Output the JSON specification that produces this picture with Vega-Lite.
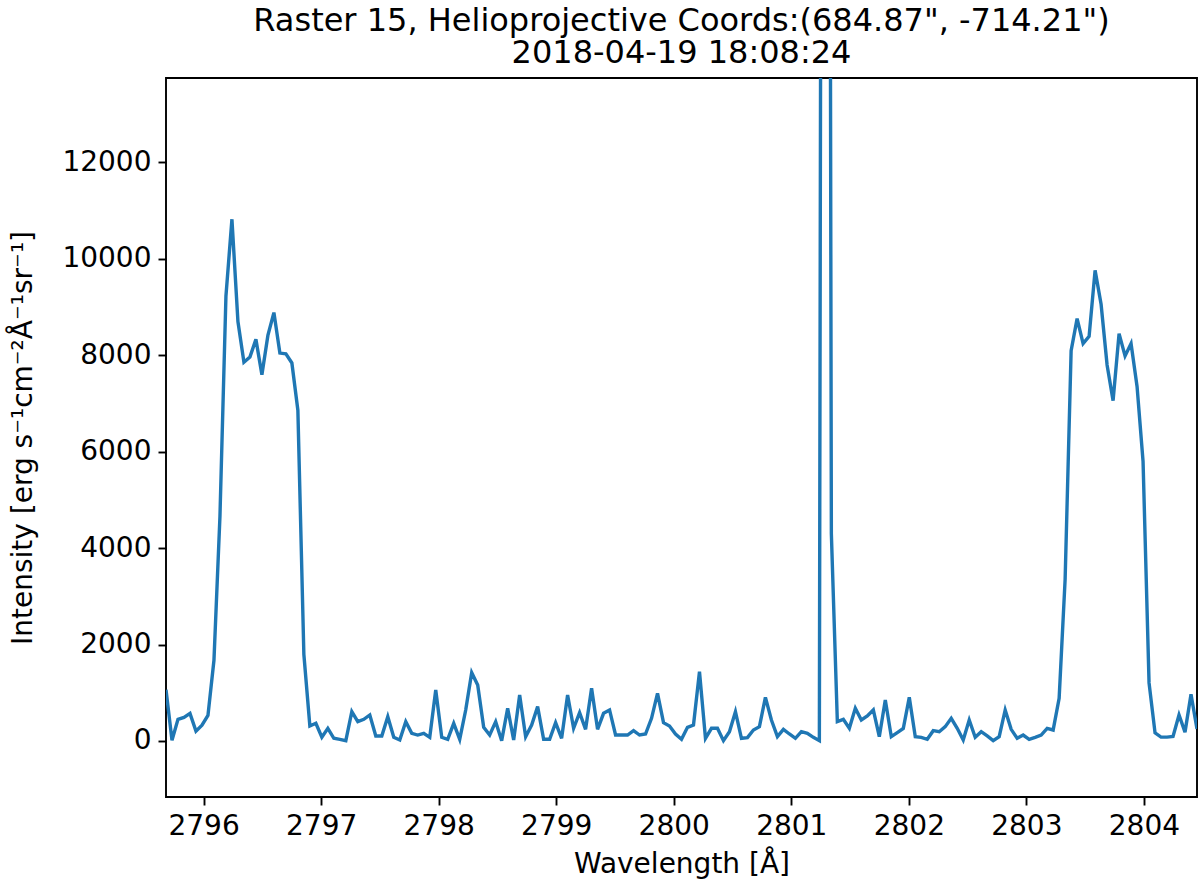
{
  "$schema": "https://vega.github.io/schema/vega-lite/v6.json",
  "width": 1031,
  "height": 719,
  "autosize": {"type": "none"},
  "padding": {"left": 166, "top": 78, "right": 3, "bottom": 97},
  "background": "white",
  "config": {"view": {"stroke": "black", "strokeWidth": 1.9}, "font": "DejaVu Sans"},
  "title": {
    "text": ["Raster 15, Helioprojective Coords:(684.87\", -714.21\")", "2018-04-19 18:08:24"],
    "fontSize": 32,
    "lineHeight": 32,
    "font": "DejaVu Sans",
    "fontWeight": "normal",
    "color": "black",
    "anchor": "middle",
    "offset": 8
  },
  "data": {"values": [
    {"w": 2795.680, "i": 1061}, {"w": 2795.731, "i": 16}, {"w": 2795.782, "i": 449}, {"w": 2795.833, "i": 490},
    {"w": 2795.884, "i": 571}, {"w": 2795.935, "i": 204}, {"w": 2795.986, "i": 327}, {"w": 2796.037, "i": 531},
    {"w": 2796.088, "i": 1673}, {"w": 2796.139, "i": 4653}, {"w": 2796.190, "i": 9224}, {"w": 2796.241, "i": 10816},
    {"w": 2796.292, "i": 8694}, {"w": 2796.343, "i": 7853}, {"w": 2796.394, "i": 7959}, {"w": 2796.445, "i": 8326},
    {"w": 2796.496, "i": 7592}, {"w": 2796.547, "i": 8408}, {"w": 2796.598, "i": 8881}, {"w": 2796.649, "i": 8041},
    {"w": 2796.700, "i": 8024}, {"w": 2796.751, "i": 7837}, {"w": 2796.802, "i": 6857}, {"w": 2796.853, "i": 1796},
    {"w": 2796.904, "i": 311}, {"w": 2796.955, "i": 367}, {"w": 2797.006, "i": 77}, {"w": 2797.057, "i": 263},
    {"w": 2797.108, "i": 56}, {"w": 2797.159, "i": 35}, {"w": 2797.210, "i": 7}, {"w": 2797.261, "i": 608},
    {"w": 2797.312, "i": 401}, {"w": 2797.363, "i": 449}, {"w": 2797.414, "i": 539}, {"w": 2797.465, "i": 104},
    {"w": 2797.516, "i": 104}, {"w": 2797.567, "i": 504}, {"w": 2797.618, "i": 76}, {"w": 2797.669, "i": 21},
    {"w": 2797.720, "i": 401}, {"w": 2797.771, "i": 159}, {"w": 2797.822, "i": 124}, {"w": 2797.873, "i": 159},
    {"w": 2797.924, "i": 76}, {"w": 2797.975, "i": 1057}, {"w": 2798.026, "i": 76}, {"w": 2798.077, "i": 35},
    {"w": 2798.128, "i": 367}, {"w": 2798.179, "i": 35}, {"w": 2798.230, "i": 643}, {"w": 2798.281, "i": 1416},
    {"w": 2798.332, "i": 1161}, {"w": 2798.383, "i": 283}, {"w": 2798.434, "i": 124}, {"w": 2798.485, "i": 401},
    {"w": 2798.536, "i": 7}, {"w": 2798.587, "i": 678}, {"w": 2798.638, "i": 21}, {"w": 2798.689, "i": 954},
    {"w": 2798.740, "i": 90}, {"w": 2798.791, "i": 332}, {"w": 2798.842, "i": 712}, {"w": 2798.893, "i": 35},
    {"w": 2798.944, "i": 35}, {"w": 2798.995, "i": 380}, {"w": 2799.046, "i": 56}, {"w": 2799.097, "i": 954},
    {"w": 2799.148, "i": 263}, {"w": 2799.199, "i": 588}, {"w": 2799.250, "i": 242}, {"w": 2799.301, "i": 1092},
    {"w": 2799.352, "i": 242}, {"w": 2799.403, "i": 574}, {"w": 2799.454, "i": 643}, {"w": 2799.505, "i": 124},
    {"w": 2799.556, "i": 124}, {"w": 2799.607, "i": 124}, {"w": 2799.658, "i": 214}, {"w": 2799.709, "i": 124},
    {"w": 2799.760, "i": 145}, {"w": 2799.811, "i": 470}, {"w": 2799.862, "i": 989}, {"w": 2799.913, "i": 380},
    {"w": 2799.964, "i": 311}, {"w": 2800.015, "i": 145}, {"w": 2800.066, "i": 35}, {"w": 2800.117, "i": 283},
    {"w": 2800.168, "i": 332}, {"w": 2800.219, "i": 1437}, {"w": 2800.270, "i": 56}, {"w": 2800.321, "i": 263},
    {"w": 2800.372, "i": 263}, {"w": 2800.423, "i": 7}, {"w": 2800.474, "i": 193}, {"w": 2800.525, "i": 608},
    {"w": 2800.576, "i": 56}, {"w": 2800.627, "i": 70}, {"w": 2800.678, "i": 228}, {"w": 2800.729, "i": 297},
    {"w": 2800.780, "i": 905}, {"w": 2800.831, "i": 435}, {"w": 2800.882, "i": 90}, {"w": 2800.933, "i": 242},
    {"w": 2800.984, "i": 145}, {"w": 2801.035, "i": 56}, {"w": 2801.086, "i": 193}, {"w": 2801.137, "i": 159},
    {"w": 2801.188, "i": 76}, {"w": 2801.239, "i": 7}, {"w": 2801.290, "i": 70000}, {"w": 2801.341, "i": 4300},
    {"w": 2801.392, "i": 401}, {"w": 2801.443, "i": 449}, {"w": 2801.494, "i": 263}, {"w": 2801.545, "i": 678},
    {"w": 2801.596, "i": 435}, {"w": 2801.647, "i": 518}, {"w": 2801.698, "i": 643}, {"w": 2801.749, "i": 90},
    {"w": 2801.800, "i": 850}, {"w": 2801.851, "i": 90}, {"w": 2801.902, "i": 173}, {"w": 2801.953, "i": 260},
    {"w": 2802.004, "i": 905}, {"w": 2802.055, "i": 90}, {"w": 2802.106, "i": 76}, {"w": 2802.157, "i": 35},
    {"w": 2802.208, "i": 214}, {"w": 2802.259, "i": 193}, {"w": 2802.310, "i": 297}, {"w": 2802.361, "i": 470},
    {"w": 2802.412, "i": 263}, {"w": 2802.463, "i": 21}, {"w": 2802.514, "i": 435}, {"w": 2802.565, "i": 76},
    {"w": 2802.616, "i": 193}, {"w": 2802.667, "i": 104}, {"w": 2802.718, "i": 7}, {"w": 2802.769, "i": 90},
    {"w": 2802.820, "i": 643}, {"w": 2802.871, "i": 242}, {"w": 2802.922, "i": 56}, {"w": 2802.973, "i": 124},
    {"w": 2803.024, "i": 35}, {"w": 2803.075, "i": 76}, {"w": 2803.126, "i": 124}, {"w": 2803.177, "i": 263},
    {"w": 2803.228, "i": 228}, {"w": 2803.279, "i": 885}, {"w": 2803.330, "i": 3352}, {"w": 2803.381, "i": 8091},
    {"w": 2803.432, "i": 8757}, {"w": 2803.483, "i": 8238}, {"w": 2803.534, "i": 8387}, {"w": 2803.585, "i": 9756},
    {"w": 2803.636, "i": 9053}, {"w": 2803.687, "i": 7794}, {"w": 2803.738, "i": 7054}, {"w": 2803.789, "i": 8446},
    {"w": 2803.840, "i": 7981}, {"w": 2803.891, "i": 8238}, {"w": 2803.942, "i": 7351}, {"w": 2803.993, "i": 5796},
    {"w": 2804.044, "i": 1204}, {"w": 2804.095, "i": 168}, {"w": 2804.146, "i": 80}, {"w": 2804.197, "i": 80},
    {"w": 2804.248, "i": 95}, {"w": 2804.299, "i": 539}, {"w": 2804.350, "i": 184}, {"w": 2804.401, "i": 968},
    {"w": 2804.452, "i": 250}
  ]},
  "mark": {"type": "line", "color": "#1f77b4", "strokeWidth": 3.4, "clip": true},
  "encoding": {
    "x": {
      "field": "w", "type": "quantitative",
      "scale": {"domain": [2795.68, 2804.452], "nice": false, "zero": false},
      "axis": {
        "values": [2796, 2797, 2798, 2799, 2800, 2801, 2802, 2803, 2804],
        "format": "d", "grid": false, "domain": false,
        "tickColor": "black", "tickWidth": 1.9, "tickSize": 8,
        "labelColor": "black", "labelFont": "DejaVu Sans", "labelFontSize": 28, "labelPadding": 7,
        "labelFlush": false, "labelOverlap": false,
        "title": "Wavelength [Å]", "titleFont": "DejaVu Sans", "titleFontSize": 28,
        "titleFontWeight": "normal", "titleColor": "black", "titlePadding": 10
      }
    },
    "y": {
      "field": "i", "type": "quantitative",
      "scale": {"domain": [-1161, 13744], "nice": false, "zero": false},
      "axis": {
        "values": [0, 2000, 4000, 6000, 8000, 10000, 12000],
        "format": "d", "grid": false, "domain": false,
        "tickColor": "black", "tickWidth": 1.9, "tickSize": 8,
        "labelColor": "black", "labelFont": "DejaVu Sans", "labelFontSize": 28, "labelPadding": 7,
        "labelFlush": false, "labelOverlap": false,
        "title": "Intensity [erg s⁻¹cm⁻²Å⁻¹sr⁻¹]", "titleFont": "DejaVu Sans", "titleFontSize": 28,
        "titleFontWeight": "normal", "titleColor": "black", "titlePadding": 24
      }
    }
  }
}
